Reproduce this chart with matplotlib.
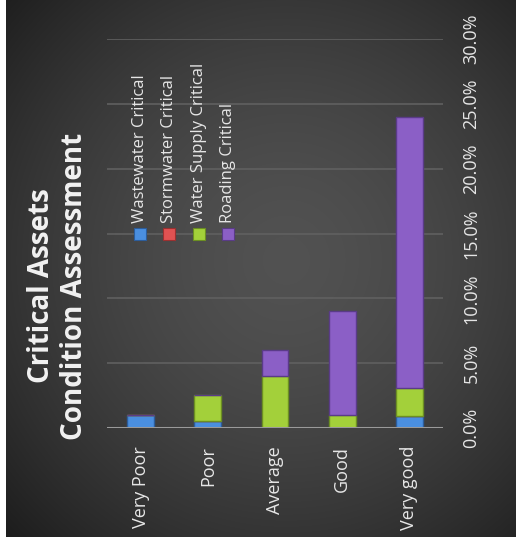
import numpy as np
import matplotlib
matplotlib.use('Agg')
from matplotlib import pyplot as plt
from matplotlib.patches import Rectangle
from matplotlib.ticker import FuncFormatter

plt.rcParams['font.family'] = ['Open Sans', 'DejaVu Sans']

categories = ['Very Poor', 'Poor', 'Average', 'Good', 'Very good']
series_names = ['Wastewater Critical', 'Stormwater Critical',
                'Water Supply Critical', 'Roading Critical']
# share of assets in each condition grade (%)
wastewater = [1.0, 0.55, 0.0, 0.0, 0.9]
stormwater = [0.0, 0.0, 0.0, 0.0, 0.0]
water_supply = [0.0, 2.0, 4.0, 1.0, 2.2]
roading = [0.0, 0.0, 2.0, 8.0, 20.9]
value_ticks = [0, 5, 10, 15, 20, 25, 30]

colors = ['#4a8fe0', '#e05252', '#a3d03a', '#8b5fc6']
edges = ['#2c5d9c', '#9c3030', '#6c8f22', '#5a3b88']
text_col = '#e6e6e6'

W, H = 516, 551
fig = plt.figure(figsize=(W / 100, H / 100), dpi=100, facecolor='white')

# dark slide background with a soft radial glow
bw, bh = 510, 537
yy, xx = np.mgrid[0:bh, 0:bw]
r = np.sqrt(((xx - 280) / 330.0) ** 2 + ((yy - 260) / 340.0) ** 2)
shade = 0.32 - 0.16 * np.clip(r, 0, 1.3) ** 1.6
bg_img = np.dstack([shade, shade, shade])
bg = fig.add_axes([6 / W, 14 / H, bw / W, bh / H])
bg.imshow(np.clip(bg_img, 0, 1), aspect='auto', interpolation='bilinear')
bg.axis('off')

ax = fig.add_axes([107 / W, 1 - 428 / H, (443 - 107) / W, (428 - 39) / H])
ax.set_facecolor('none')

x = np.arange(len(categories))
bottom = np.zeros(len(categories))
for vals, c, ec in zip([wastewater, stormwater, water_supply, roading], colors, edges):
    vals = np.array(vals)
    ax.bar(x, vals, width=0.4, bottom=bottom, color=c, edgecolor=ec,
           linewidth=1.0, zorder=3)
    bottom += vals

ax.set_xlim(-0.5, len(categories) - 0.5)
ax.set_ylim(0, 30)
ax.set_yticks(value_ticks)
ax.yaxis.set_major_formatter(FuncFormatter(lambda v, p: '%.1f%%' % v))
ax.yaxis.tick_right()
ax.yaxis.grid(True, color='#606060', linewidth=1.2, zorder=0)
ax.axhline(0, color='#9a9a9a', linewidth=2.2, zorder=4)
for s in ax.spines.values():
    s.set_visible(False)

ax.set_xticks(x)
ax.set_xticklabels(categories)
ax.tick_params(axis='x', length=0, pad=13, labelsize=13, labelcolor=text_col,
               labelrotation=90)
ax.tick_params(axis='y', length=0, pad=14, labelsize=13, labelcolor=text_col)
for lab in ax.get_xticklabels():
    lab.set_va('top')
    lab.set_ha('center')
for lab in ax.get_yticklabels():
    lab.set_rotation(90)
    lab.set_va('center')
    lab.set_ha('left')

# legend drawn sideways, one column per series
for i, (name, c, ec) in enumerate(zip(series_names, colors, edges)):
    px = 140 + i * 29.3
    fig.patches.append(Rectangle(((px - 6) / W, 1 - 240 / H), 12 / W, 12 / H,
                                 transform=fig.transFigure, facecolor=c,
                                 edgecolor=ec, linewidth=0.8))
    fig.text(px / W, 1 - 223 / H, name, rotation=90, ha='center', va='bottom',
             fontsize=12, color=text_col)

fig.text(58 / W, 1 - 286 / H, 'Critical Assets\nCondition Assessment',
         rotation=90, ha='center', va='center', multialignment='center',
         fontsize=20, fontweight='bold', color='#f2f2f2', linespacing=1.2)

fig.savefig('out.png', dpi=100, facecolor='white')
